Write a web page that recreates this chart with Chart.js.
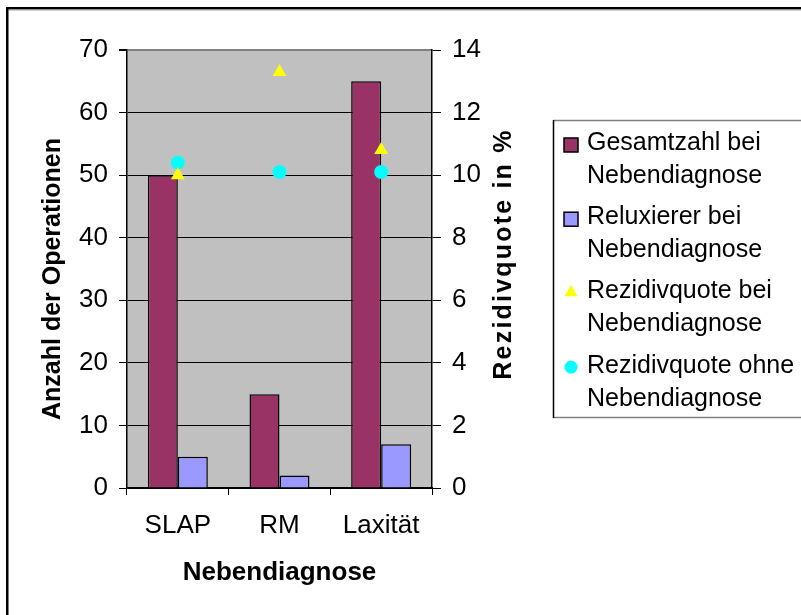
<!DOCTYPE html>
<html>
<head>
<meta charset="utf-8">
<script src="https://cdn.jsdelivr.net/npm/chart.js@4"></script>
<style>
  html, body { margin: 0; padding: 0; background: #fff; }
  canvas { display: block; }
</style>
</head>
<body>
<canvas id="chart" width="801" height="615"></canvas>
<script>
// Categories and series
const categories = ['SLAP', 'RM', 'Laxität'];
const gesamtzahl = [50, 15, 65];
const reluxierer = [5, 2, 7];
const quoteMit = [10.0, 13.3, 10.8];
const quoteOhne = [10.4, 10.1, 10.1];

// Axis tick values
const countTicks = [0, 10, 20, 30, 40, 50, 60, 70];
const quoteTicks = [0, 2, 4, 6, 8, 10, 12, 14];

// Labels
const seriesNames = [
  'Gesamtzahl bei Nebendiagnose',
  'Reluxierer bei Nebendiagnose',
  'Rezidivquote bei Nebendiagnose',
  'Rezidivquote ohne Nebendiagnose'
];
const xTitle = 'Nebendiagnose';
const leftTitle = 'Anzahl der Operationen';
const rightTitle = 'Rezidivquote in %';

const FONT = '"Liberation Sans", Arial, Helvetica, sans-serif';
Chart.defaults.font.family = FONT;
Chart.defaults.color = '#000';

// Grey plot area and outer frame
const frame = {
  id: 'frame',
  beforeDraw(chart) {
    const { ctx, chartArea: a } = chart;
    ctx.save();
    ctx.fillStyle = '#C0C0C0';
    ctx.fillRect(a.left, a.top, a.right - a.left, a.bottom - a.top);
    ctx.restore();
  },
  afterDraw(chart) {
    const ctx = chart.ctx;
    ctx.save();
    ctx.strokeStyle = '#000';
    ctx.lineWidth = 2.5;
    ctx.beginPath();
    ctx.moveTo(7.25, 615);
    ctx.lineTo(7.25, 8.25);
    ctx.lineTo(801, 8.25);
    ctx.stroke();
    ctx.strokeStyle = '#a0a0a0';
    ctx.lineWidth = 1;
    ctx.beginPath();
    ctx.moveTo(9, 10);
    ctx.lineTo(801, 10);
    ctx.stroke();
    ctx.restore();
  }
};

// Vertical axis titles, both reading bottom to top
const axisTitles = {
  id: 'axisTitles',
  afterDraw(chart) {
    const ctx = chart.ctx;
    const a = chart.chartArea;
    const draw = (text, x, y, spacing) => {
      ctx.save();
      ctx.letterSpacing = spacing;
      ctx.translate(x, y);
      ctx.rotate(-Math.PI / 2);
      ctx.font = 'bold 25px ' + FONT;
      ctx.fillStyle = '#000';
      ctx.textAlign = 'center';
      ctx.textBaseline = 'middle';
      ctx.fillText(text, 0, 0);
      ctx.restore();
    };
    draw(leftTitle, chart.scales.y.left + 53, (a.top + a.bottom) / 2 + 10, '0px');
    draw(rightTitle, chart.scales.y1.left + 72, (a.top + a.bottom) / 2 - 15, '2.2px');
  }
};

// Boxed legend with two-line entries
const sideLegend = {
  id: 'sideLegend',
  afterDraw(chart) {
    const ctx = chart.ctx;
    ctx.save();
    ctx.lineWidth = 1.5;
    ctx.strokeStyle = '#808080';
    ctx.beginPath();
    ctx.moveTo(553, 120.5); ctx.lineTo(801, 120.5);
    ctx.moveTo(553, 417.5); ctx.lineTo(801, 417.5);
    ctx.stroke();
    ctx.strokeStyle = '#000';
    ctx.beginPath();
    ctx.moveTo(553.5, 120); ctx.lineTo(553.5, 418);
    ctx.stroke();

    ctx.font = '25px ' + FONT;
    ctx.textAlign = 'left';
    ctx.textBaseline = 'alphabetic';
    chart.data.datasets.forEach((ds, i) => {
      const base = 150 + i * 74.2;
      const cx = 571, cy = base - 6;
      if (ds.type === 'line') {
        ctx.fillStyle = ds.pointBackgroundColor;
        ctx.beginPath();
        if (ds.pointStyle === 'triangle') {
          const r = 7.5;
          ctx.moveTo(cx, cy - r);
          ctx.lineTo(cx + r * 0.866, cy + r * 0.5);
          ctx.lineTo(cx - r * 0.866, cy + r * 0.5);
          ctx.closePath();
        } else {
          ctx.arc(cx, cy + 0.5, 6.5, 0, Math.PI * 2);
        }
        ctx.fill();
      } else {
        ctx.fillStyle = ds.backgroundColor;
        ctx.fillRect(564, base - 12, 14, 14);
        ctx.strokeStyle = '#000';
        ctx.lineWidth = 1.5;
        ctx.strokeRect(564, base - 12, 14, 14);
      }
      const cut = ds.label.lastIndexOf(' ');
      ctx.fillStyle = '#000';
      ctx.fillText(ds.label.slice(0, cut), 587, base);
      ctx.fillText(ds.label.slice(cut + 1), 587, base + 33);
    });
    ctx.restore();
  }
};

new Chart(document.getElementById('chart'), {
  type: 'bar',
  data: {
    labels: categories,
    datasets: [
      {
        label: seriesNames[0],
        data: gesamtzahl,
        yAxisID: 'y',
        backgroundColor: '#993366',
        borderColor: '#000',
        borderWidth: 1.5,
        barPercentage: 1,
        categoryPercentage: 0.59,
        order: 1
      },
      {
        label: seriesNames[1],
        data: reluxierer,
        yAxisID: 'y',
        backgroundColor: '#9999FF',
        borderColor: '#000',
        borderWidth: 1.5,
        barPercentage: 1,
        categoryPercentage: 0.59,
        order: 1
      },
      {
        type: 'line',
        label: seriesNames[2],
        data: quoteMit,
        yAxisID: 'y1',
        showLine: false,
        pointStyle: 'triangle',
        pointRadius: 8,
        pointBorderWidth: 0,
        pointBackgroundColor: '#FFFF00',
        pointBorderColor: '#FFFF00',
        order: 0
      },
      {
        type: 'line',
        label: seriesNames[3],
        data: quoteOhne,
        yAxisID: 'y1',
        showLine: false,
        pointStyle: 'circle',
        pointRadius: 7,
        pointBorderWidth: 0,
        pointBackgroundColor: '#00FFFF',
        pointBorderColor: '#00FFFF',
        order: 0
      }
    ]
  },
  options: {
    responsive: false,
    animation: false,
    events: [],
    layout: { padding: { left: 0, top: 50, right: 249, bottom: 27 } },
    plugins: {
      legend: { display: false },
      tooltip: { enabled: false }
    },
    scales: {
      x: {
        type: 'category',
        offset: true,
        grid: {
          offset: true,
          drawOnChartArea: false,
          drawTicks: true,
          tickLength: 7,
          color: '#000',
          tickColor: '#000',
          lineWidth: 1
        },
        border: { display: true, color: '#000', width: 1.5 },
        ticks: {
          font: { size: 26, lineHeight: 1.2 },
          color: '#000',
          padding: 15,
          maxRotation: 0,
          autoSkip: false
        },
        title: {
          display: true,
          text: xTitle,
          color: '#000',
          font: { size: 26, weight: 'bold', lineHeight: 1.2 },
          padding: { top: 0, bottom: 0 }
        },
        afterFit(scale) { scale.height = 100; }
      },
      y: {
        position: 'left',
        min: 0,
        max: 70,
        afterBuildTicks(scale) { scale.ticks = countTicks.map(v => ({ value: v })); },
        grid: {
          drawTicks: true,
          tickLength: 8,
          tickColor: '#000',
          color: (c) => (c.tick && c.tick.value === 70 ? '#808080' : '#000'),
          lineWidth: (c) => (c.tick && c.tick.value === 70 ? 2 : 1)
        },
        border: { display: true, color: '#000', width: 1.5 },
        ticks: {
          font: { size: 26, lineHeight: 1.2 },
          color: '#000',
          padding: 11
        },
        afterFit(scale) { scale.width = 127; }
      },
      y1: {
        position: 'right',
        min: 0,
        max: 14,
        afterBuildTicks(scale) { scale.ticks = quoteTicks.map(v => ({ value: v })); },
        grid: {
          drawOnChartArea: false,
          drawTicks: true,
          tickLength: 9,
          tickColor: '#000',
          color: '#000'
        },
        border: { display: true, color: '#000', width: 1.5 },
        ticks: {
          font: { size: 26, lineHeight: 1.2 },
          color: '#000',
          padding: 11
        },
        afterFit(scale) { scale.width = 120; }
      }
    }
  },
  plugins: [frame, axisTitles, sideLegend]
});
</script>
</body>
</html>
